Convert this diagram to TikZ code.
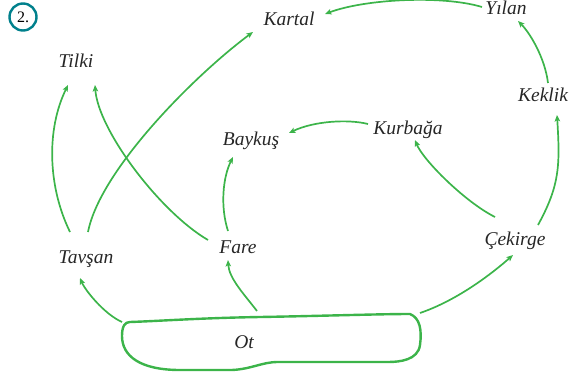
\documentclass[tikz,border=0pt]{standalone}
\usepackage{fontspec}
\setmainfont{Liberation Serif}
\usetikzlibrary{arrows.meta}
\definecolor{leaf}{RGB}{60,180,74}
\definecolor{teal2}{RGB}{0,128,140}
\tikzset{
  lbl/.style={anchor=base, inner sep=0pt, font=\fontsize{19.5}{22}\selectfont\itshape, text=black!85},
  eat/.style={draw=leaf, line width=1.7pt, -{Stealth[length=6.5pt,width=5.5pt,inset=1.5pt]}},
  blob/.style={draw=leaf, line width=2.4pt, line join=round},
}
\begin{document}
\begin{tikzpicture}[x=1pt,y=-1pt]
\useasboundingbox (0,0) rectangle (581,377);
% number badge
\node[draw=teal2, line width=2.4pt, circle, minimum size=27pt, inner sep=0pt, font=\fontsize{16}{18}\selectfont] (num) at (23,17) {2.};
% labels
\node[lbl] (kartal)  at (289,26)  {Kartal};
\node[lbl] (yilan)   at (506,15)  {Yılan};
\node[lbl] (tilki)   at (76,68)   {Tilki};
\node[lbl] (keklik)  at (543,102) {Keklik};
\node[lbl] (baykus)  at (251,146) {Baykuş};
\node[lbl] (kurbaga) at (408,135) {Kurbağa};
\node[lbl] (tavsan)  at (86,263)  {Tavşan};
\node[lbl] (fare)    at (238,253) {Fare};
\node[lbl] (cekirge) at (515,245) {Çekirge};
\node[lbl] (ot)      at (244,348) {Ot};
% grass outline
\draw[blob] (130,322) .. controls (160,321) and (200,318) .. (260,317)
  .. controls (320,316) and (380,314) .. (410,314)
  .. controls (420,318) and (422,330) .. (420,345)
  .. controls (418,360) and (400,362) .. (388,362)
  -- (278,362) .. controls (262,362) and (252,369) .. (232,370)
  -- (180,370) .. controls (140,370) and (122,356) .. (122,336)
  .. controls (122,326) and (125,322) .. (130,322);
\coordinate (otL) at ([shift={(-122,-26)}]ot.base);
\coordinate (otM) at ([shift={(13,-37)}]ot.base);
\coordinate (otR) at ([shift={(176,-35)}]ot.base);
% connectors
\draw[eat] (otL) .. controls +(-18,-8) and +(5,12) .. ([shift={(-6,15)}]tavsan.base);
\draw[eat] (otM) .. controls +(-14,-18) and +(1,18) .. ([shift={(-10,7)}]fare.base);
\draw[eat] (otR) .. controls +(35,-12) and +(-25,22) .. ([shift={(-2,10)}]cekirge.base);
\draw[eat] ([shift={(-16,-31)}]tavsan.base) .. controls +(-22,-45) and +(-22,45) .. ([shift={(-8,17)}]tilki.base);
\draw[eat] ([shift={(2,-31)}]tavsan.base) .. controls +(12,-62) and +(-58,43) .. ([shift={(-36,6)}]kartal.base);
\draw[eat] ([shift={(-30,-13)}]fare.base) .. controls +(-48,-28) and +(3,45) .. ([shift={(19,17)}]tilki.base);
\draw[eat] ([shift={(-10,-22)}]fare.base) .. controls +(-8,-25) and +(-10,20) .. ([shift={(-18,11)}]baykus.base);
\draw[eat] ([shift={(-20,-28)}]cekirge.base) .. controls +(-30,-15) and +(8,20) .. ([shift={(7,5)}]kurbaga.base);
\draw[eat] ([shift={(23,-20)}]cekirge.base) .. controls +(22,-40) and +(3,50) .. ([shift={(14,13)}]keklik.base);
\draw[eat] ([shift={(5,-19)}]keklik.base) .. controls +(-3,-25) and +(12,12) .. ([shift={(12,6)}]yilan.base);
\draw[eat] ([shift={(-24,-8)}]yilan.base) .. controls +(-40,-12) and +(40,-15) .. ([shift={(36,-12)}]kartal.base);
\draw[eat] ([shift={(-40,-11)}]kurbaga.base) .. controls +(-20,-5) and +(25,-12) .. ([shift={(38,-13)}]baykus.base);
\end{tikzpicture}
\end{document}
